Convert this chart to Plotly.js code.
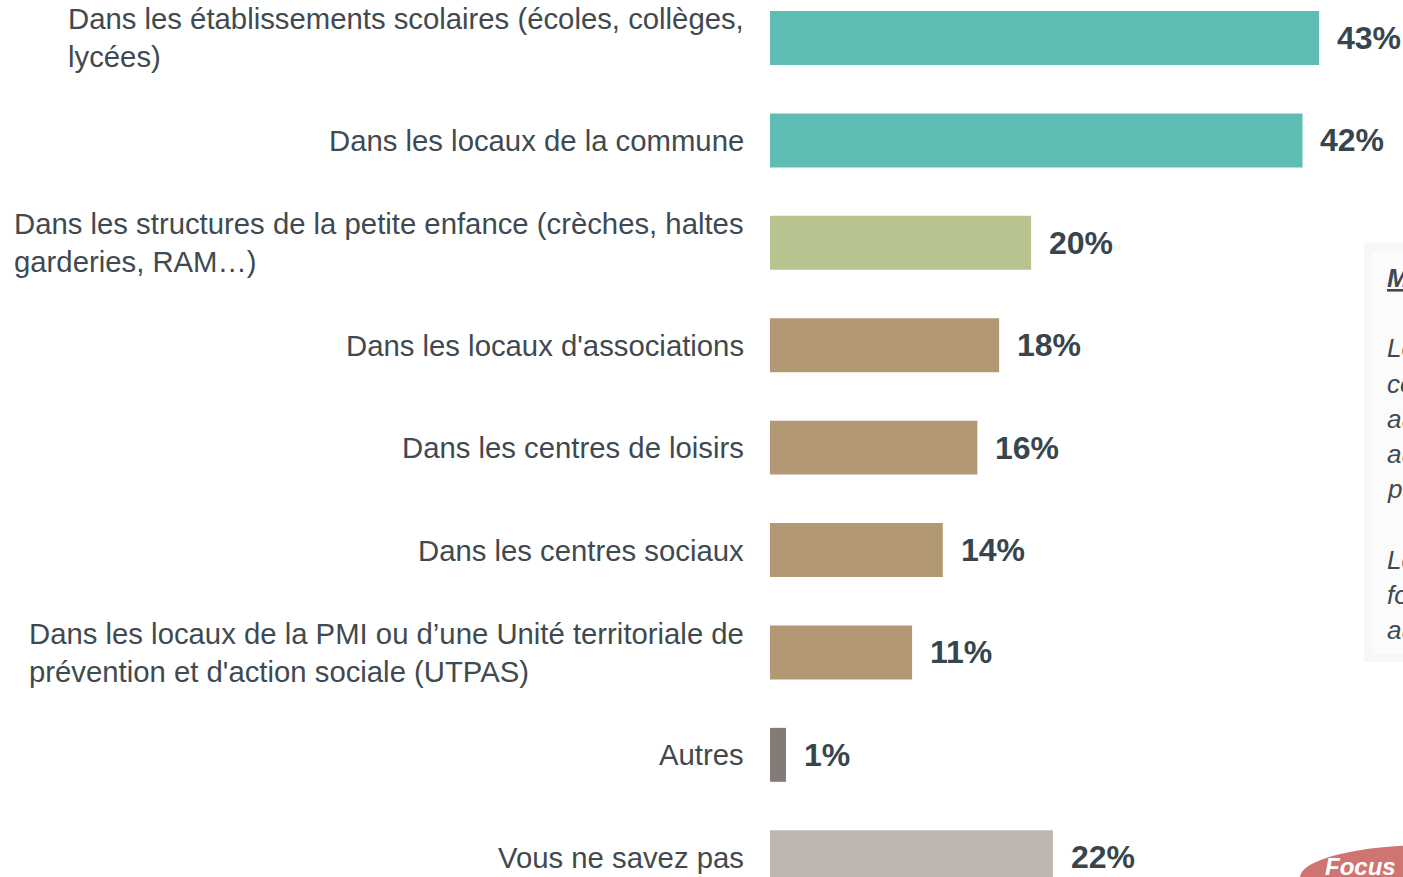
<!DOCTYPE html>
<html>
<head>
<meta charset="utf-8">
<script src="https://cdn.plot.ly/plotly-3.0.1.min.js"></script>
<style>
  html, body { margin: 0; padding: 0; background: #ffffff; overflow: hidden; }
  #chart { width: 1403px; height: 877px; }
</style>
</head>
<body>
<div id="chart"></div>
<script>
// categories (top to bottom)
var lieux = [
  'Dans les établissements scolaires (écoles, collèges,<br>lycées)',
  'Dans les locaux de la commune',
  'Dans les structures de la petite enfance (crèches, haltes<br>garderies, RAM…)',
  "Dans les locaux d'associations",
  'Dans les centres de loisirs',
  'Dans les centres sociaux',
  "Dans les locaux de la PMI ou d’une Unité territoriale de<br>prévention et d'action sociale (UTPAS)",
  'Autres',
  'Vous ne savez pas'
];
var pourcent = [42.9, 41.6, 20.4, 17.9, 16.2, 13.5, 11.1, 1.25, 22.1];
var etiquettes = ['43%', '42%', '20%', '18%', '16%', '14%', '11%', '1%', '22%'];
var couleurs = ['#5dbdb3', '#5dbdb3', '#b7c48f', '#b39874', '#b39874', '#b39874', '#b39874', '#857a75', '#c0b6b0'];

// cut-off side panel text (right edge of slide)
var encadre = ['<b><u>Méthode</u></b>', '', 'Les', 'ces', 'aux', 'aux', 'par', '', 'Les', 'fois', 'aux'];

var data = [{
  type: 'bar',
  orientation: 'h',
  x: pourcent,
  y: lieux,
  width: 0.527,
  marker: {color: couleurs},
  hoverinfo: 'none'
}];

var annots = [];
lieux.forEach(function(l, i) {
  annots.push({
    xref: 'paper', yref: 'y', x: 0, y: l,
    xanchor: 'right', yanchor: 'middle', align: 'left',
    xshift: -24, showarrow: false, text: l,
    font: {family: 'Liberation Sans, Arial, sans-serif', size: 29.3, color: '#3f4a50'}
  });
  annots.push({
    xref: 'x', yref: 'y', x: pourcent[i], y: l,
    xanchor: 'left', yanchor: 'middle',
    xshift: 16, showarrow: false, text: '<b>' + etiquettes[i] + '</b>',
    font: {family: 'Liberation Sans, Arial, sans-serif', size: 32, color: '#37464c'}
  });
});

encadre.forEach(function(t, i) {
  if (!t) return;
  annots.push({
    xref: 'paper', yref: 'paper', x: (1385 - 770) / 633, y: 1 - (278 + i * 35.2) / 877,
    xanchor: 'left', yanchor: 'middle', showarrow: false, text: '<i>' + t + '</i>',
    font: {family: 'Liberation Sans, Arial, sans-serif', size: 26, color: '#3f4a50'}
  });
});

annots.push({
  xref: 'paper', yref: 'paper', x: (1323 - 770) / 633, y: 1 - 866 / 877,
  xanchor: 'left', yanchor: 'middle', showarrow: false,
  text: '<b><i>Focus territorial</i></b>',
  font: {family: 'Liberation Sans, Arial, sans-serif', size: 24, color: '#ffffff'}
});

var layout = {
  width: 1403,
  height: 877,
  margin: {l: 770, r: 0, t: 0, b: 0, pad: 0},
  paper_bgcolor: '#ffffff',
  plot_bgcolor: 'rgba(0,0,0,0)',
  showlegend: false,
  xaxis: {
    range: [0, 633 / 12.8],
    visible: false,
    fixedrange: true
  },
  yaxis: {
    type: 'category',
    range: [8.193, -0.371],
    showticklabels: false,
    showgrid: false,
    zeroline: false,
    showline: false,
    ticks: '',
    fixedrange: true
  },
  shapes: [
    {type: 'rect', xref: 'paper', yref: 'paper',
     x0: (1364 - 770) / 633, x1: (1600 - 770) / 633,
     y0: 1 - 662 / 877, y1: 1 - 243 / 877,
     fillcolor: '#f7f7f7', line: {width: 0}, layer: 'below'},
    {type: 'rect', xref: 'paper', yref: 'paper',
     x0: (1372 - 770) / 633, x1: (1600 - 770) / 633,
     y0: 1 - 654 / 877, y1: 1 - 251 / 877,
     fillcolor: '#fbfbfb', line: {width: 0}, layer: 'below'},
    {type: 'circle', xref: 'paper', yref: 'paper',
     x0: (1300 - 770) / 633, x1: (1560 - 770) / 633,
     y0: 1 - 910 / 877, y1: 1 - 845 / 877,
     fillcolor: '#cf7470', line: {width: 0}, layer: 'below'}
  ],
  annotations: annots
};

Plotly.newPlot('chart', data, layout, {displayModeBar: false, responsive: false});
</script>
</body>
</html>
